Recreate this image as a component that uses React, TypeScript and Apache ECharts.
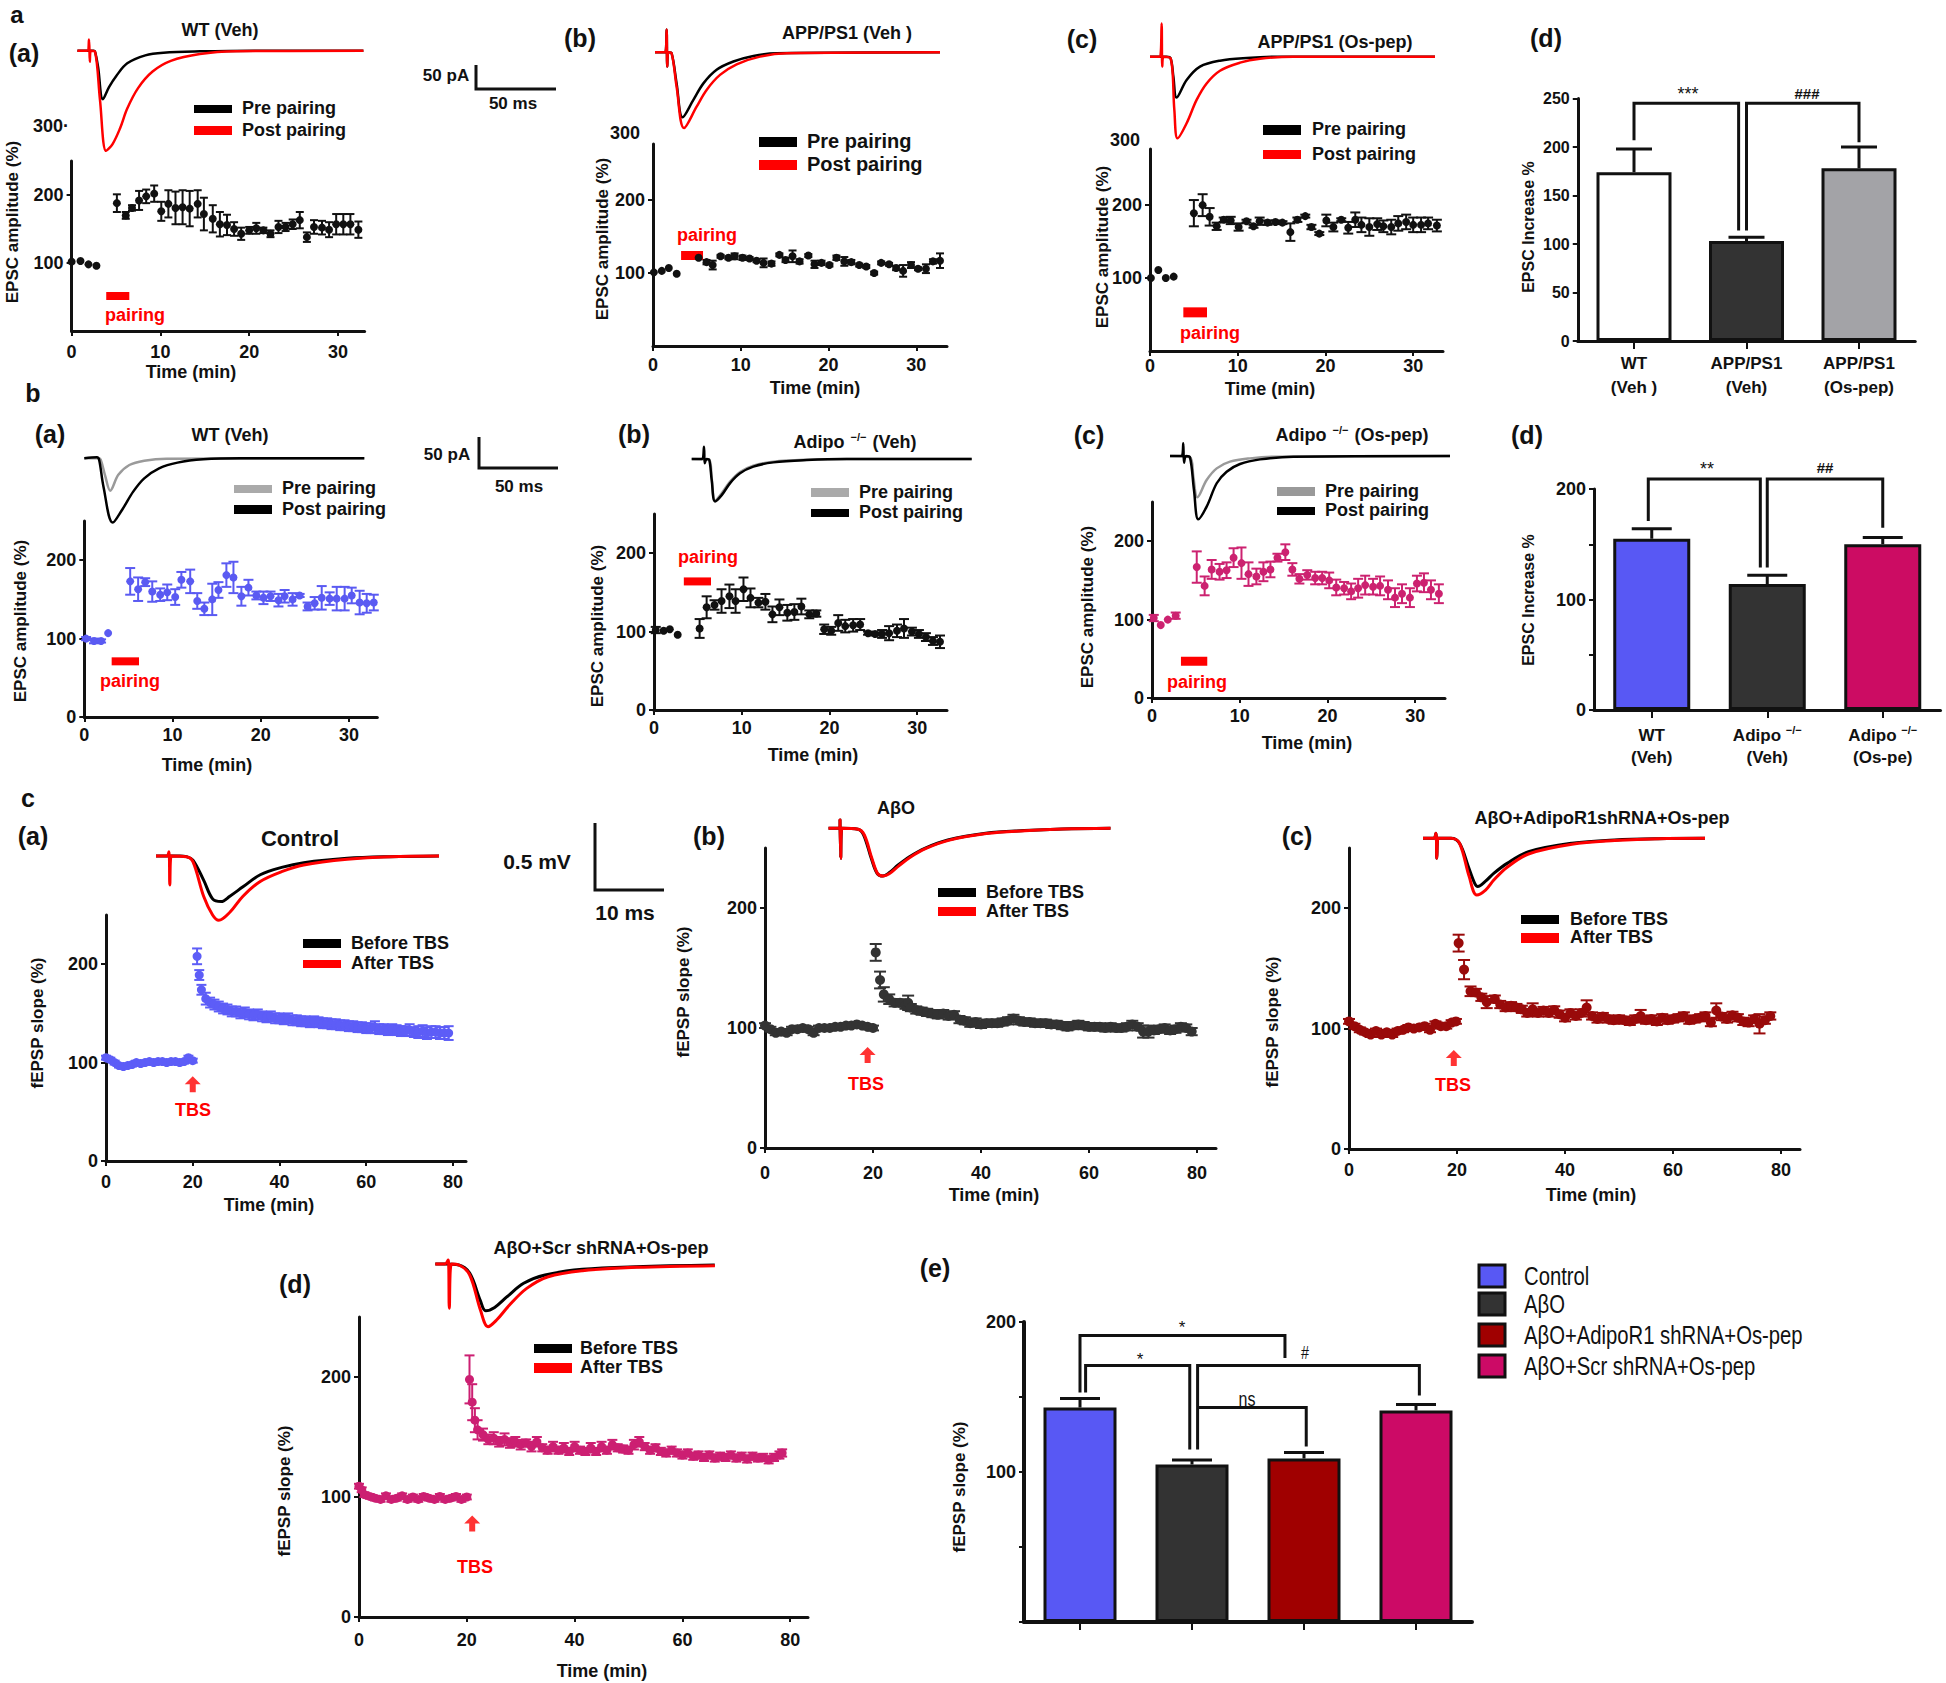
import React, { useEffect, useRef } from "react";
import * as echarts from "echarts";

const FONT = "'Liberation Sans', Arial, Helvetica, sans-serif";
const NARROW = "'Liberation Sans Narrow', 'Arial Narrow', 'Liberation Sans', Arial, sans-serif";
const INK = "#111111";
const RED = "#ff0000";

// ================= DATA =================
// Panel a — EPSC amplitude (%) : [time (min), mean, sem]
const aWTVeh = [
  [0, 102, 0], [1, 103, 0], [1.9, 98, 0], [2.8, 96, 0],
  [5.1, 188, 13], [6.1, 170, 5], [6.8, 181, 4], [7.6, 192, 14], [8.4, 198, 10], [9.3, 202, 12],
  [10.1, 176, 14], [10.9, 187, 20], [11.7, 181, 24], [12.5, 182, 25], [13.3, 180, 26], [14.2, 187, 20],
  [14.9, 172, 24], [15.9, 165, 20], [16.7, 157, 18], [17.5, 156, 15], [18.3, 150, 10], [19.1, 143, 9],
  [20.0, 148, 5], [20.8, 151, 8], [21.6, 148, 4], [22.4, 143, 5], [23.3, 153, 9], [24.1, 153, 6],
  [24.9, 157, 7], [25.7, 163, 12], [26.5, 138, 7], [27.3, 153, 10], [28.2, 152, 10], [29.0, 149, 11],
  [29.8, 157, 15], [30.6, 157, 15], [31.4, 157, 15], [32.3, 149, 12],
];
const aAPPVeh = [
  [0.1, 101, 0], [1.0, 103, 0], [1.8, 107, 0], [2.7, 99, 0],
  [5.2, 121, 0], [6.1, 115, 3], [6.8, 111, 6], [7.7, 123, 2], [8.6, 121, 2], [9.3, 123, 4],
  [10.2, 121, 3], [11.0, 120, 2], [11.8, 117, 2], [12.6, 114, 6], [13.5, 113, 3], [14.4, 125, 2],
  [15.1, 118, 3], [15.9, 123, 8], [16.7, 116, 3], [17.7, 124, 2], [18.4, 112, 5], [19.2, 114, 3],
  [20.1, 111, 2], [20.9, 121, 3], [21.8, 116, 6], [22.6, 115, 3], [23.5, 111, 2], [24.3, 109, 2],
  [25.2, 100, 2], [26.0, 114, 2], [26.9, 112, 2], [27.7, 107, 3], [28.5, 103, 8], [29.4, 111, 4],
  [30.2, 106, 2], [31.1, 106, 6], [31.9, 116, 3], [32.7, 117, 10],
];
const aAPPOs = [
  [0.1, 100, 0], [0.95, 111, 0], [1.8, 100, 0], [2.7, 102, 0],
  [5.0, 189, 18], [6.0, 200, 15], [6.8, 184, 12], [7.6, 171, 5], [8.4, 180, 3], [9.2, 179, 5],
  [10.1, 170, 5], [11.0, 178, 2], [11.8, 171, 2], [12.5, 178, 5], [13.4, 176, 3], [14.3, 177, 2],
  [15.1, 176, 2], [16.0, 163, 12], [16.8, 180, 3], [17.7, 185, 2], [18.4, 170, 3], [19.3, 161, 2],
  [20.1, 179, 8], [20.9, 170, 6], [21.8, 180, 2], [22.6, 169, 8], [23.4, 180, 10], [24.1, 173, 10],
  [25.0, 170, 12], [25.9, 174, 8], [26.6, 171, 8], [27.5, 170, 10], [28.3, 175, 10], [29.2, 177, 10],
  [30.0, 173, 10], [30.9, 173, 10], [31.7, 175, 8], [32.7, 172, 8],
];

// Panel b — EPSC amplitude (%)
const bWTVeh = [
  [0.2, 100, 2], [1.1, 97, 3], [1.9, 97, 2], [2.7, 107, 0],
  [5.2, 173, 17], [6.1, 163, 15], [6.9, 172, 5], [7.7, 160, 13], [8.6, 156, 8], [9.4, 159, 10],
  [10.3, 153, 10], [11.0, 175, 10], [12.0, 173, 15], [12.8, 148, 10], [13.6, 138, 8], [14.5, 150, 20],
  [15.2, 162, 10], [16.1, 181, 15], [16.9, 178, 20], [17.8, 154, 12], [18.6, 165, 10], [19.5, 155, 5],
  [20.3, 152, 8], [21.1, 154, 6], [22.0, 149, 8], [22.7, 154, 8], [23.6, 150, 8], [24.4, 155, 2],
  [25.3, 141, 5], [26.1, 145, 8], [26.9, 152, 15], [27.8, 151, 8], [28.6, 151, 15], [29.5, 151, 15],
  [30.3, 155, 10], [31.2, 146, 15], [32.0, 145, 12], [32.8, 146, 10],
];
const bAdipoVeh = [
  [0.2, 102, 4], [1.1, 101, 0], [1.8, 103, 0], [2.7, 96, 0],
  [5.2, 104, 12], [6.0, 131, 14], [6.9, 134, 6], [7.7, 139, 15], [8.6, 145, 15], [9.3, 139, 15],
  [10.2, 154, 15], [11.0, 143, 12], [11.9, 137, 6], [12.7, 138, 10], [13.5, 122, 10], [14.3, 131, 10],
  [15.2, 124, 10], [16.0, 125, 10], [16.8, 132, 10], [17.7, 122, 5], [18.5, 123, 4], [19.4, 103, 6],
  [20.2, 101, 5], [21.0, 111, 10], [21.8, 107, 8], [22.7, 108, 8], [23.5, 109, 7], [24.4, 98, 2],
  [25.2, 97, 2], [26.0, 97, 5], [26.8, 98, 9], [27.7, 101, 8], [28.5, 104, 12], [29.4, 100, 5],
  [30.2, 97, 5], [31.0, 93, 5], [31.8, 88, 5], [32.6, 87, 8],
];
const bAdipoOs = [
  [0.2, 102, 4], [1.0, 93, 0], [1.8, 100, 0], [2.7, 105, 4],
  [5.1, 167, 20], [6.0, 143, 12], [6.8, 164, 12], [7.7, 161, 10], [8.5, 163, 10], [9.3, 179, 12],
  [10.2, 172, 20], [11.0, 158, 15], [11.9, 155, 10], [12.7, 161, 12], [13.5, 164, 10], [14.3, 179, 5],
  [15.2, 186, 10], [16.0, 164, 8], [16.8, 152, 6], [17.7, 157, 6], [18.6, 153, 8], [19.4, 153, 8],
  [20.2, 150, 10], [21.0, 141, 10], [21.9, 140, 8], [22.7, 136, 10], [23.5, 140, 12], [24.3, 144, 12],
  [25.2, 142, 10], [26.0, 143, 12], [26.9, 138, 12], [27.7, 128, 12], [28.5, 133, 12], [29.4, 128, 12],
  [30.2, 146, 10], [31.0, 147, 12], [31.8, 138, 12], [32.7, 133, 12],
];

// Panel c — fEPSP slope (%)
const cControl = [
  [0, 105, 2], [1, 103, 2], [2, 100, 2], [3, 97, 2], [4, 96, 2], [5, 97, 2], [6, 98, 2], [7, 100, 2],
  [8, 99, 2], [9, 100, 2], [10, 101, 2], [11, 100, 2], [12, 101, 2], [13, 101, 2], [14, 100, 2],
  [15, 101, 2], [16, 101, 2], [17, 100, 2], [18, 101, 2], [19, 105, 2], [20, 102, 2],
  [21, 208, 8], [21.5, 189, 5], [22, 174, 5], [23, 165, 6], [24, 161, 5], [25, 159, 5], [26, 157, 5],
  [27, 155, 5], [28, 154, 5], [29, 152, 5], [30, 152, 5], [31, 150, 5], [32, 151, 5], [33, 149, 5],
  [34, 148, 5], [35, 149, 5], [36, 147, 5], [37, 146, 5], [38, 147, 5], [39, 145, 5], [40, 145, 5],
  [41, 144, 5], [42, 145, 5], [43, 143, 5], [44, 143, 5], [45, 142, 5], [46, 142, 5], [47, 141, 5],
  [48, 142, 5], [49, 141, 5], [50, 140, 5], [51, 140, 5], [52, 139, 5], [53, 139, 5], [54, 138, 5],
  [55, 138, 5], [56, 137, 5], [57, 137, 5], [58, 136, 5], [59, 136, 5], [60, 135, 5], [61, 135, 5],
  [62, 136, 6], [63, 134, 5], [64, 134, 5], [65, 133, 5], [66, 134, 5], [67, 133, 5], [68, 132, 5],
  [69, 132, 5], [70, 133, 6], [71, 131, 5], [72, 131, 6], [73, 132, 6], [74, 130, 6], [75, 131, 6],
  [76, 131, 6], [77, 130, 6], [78, 130, 6], [79, 130, 7],
];
const cAbo = [
  [0, 102, 2], [1, 99, 2], [2, 96, 2], [3, 97, 2], [4, 96, 2], [5, 99, 2], [6, 99, 2], [7, 100, 2],
  [8, 99, 2], [9, 96, 2], [10, 100, 2], [11, 100, 2], [12, 100, 2], [13, 101, 2], [14, 101, 2],
  [15, 102, 2], [16, 102, 2], [17, 103, 2], [18, 102, 2], [19, 101, 2], [20, 100, 2],
  [20.5, 163, 7], [21.3, 140, 7], [22, 128, 6], [23, 124, 4], [24, 121, 3], [25, 121, 3], [26, 119, 3],
  [26.5, 121, 6], [27, 117, 3], [28, 115, 3], [29, 114, 3], [30, 113, 3], [31, 112, 3], [32, 111, 3],
  [33, 112, 3], [34, 110, 3], [35, 111, 3], [36, 107, 3], [37, 106, 3], [38, 104, 3], [39, 105, 3],
  [40, 103, 3], [41, 104, 3], [42, 104, 3], [43, 104, 3], [44, 105, 3], [45, 106, 3], [46, 108, 3],
  [47, 106, 3], [48, 105, 3], [49, 105, 3], [50, 104, 3], [51, 104, 3], [52, 104, 3], [53, 103, 3],
  [54, 103, 3], [55, 102, 3], [56, 101, 3], [57, 102, 3], [58, 103, 3], [59, 102, 3], [60, 101, 3],
  [61, 101, 3], [62, 101, 3], [63, 100, 3], [64, 101, 3], [65, 100, 3], [66, 100, 3], [67, 101, 3],
  [68, 103, 3], [69, 101, 3], [70, 97, 5], [71, 97, 5], [72, 98, 3], [73, 99, 3], [74, 100, 3],
  [75, 98, 3], [76, 99, 3], [77, 101, 3], [78, 100, 3], [79, 97, 3],
];
const cAboShR1 = [
  [0, 106, 2], [1, 102, 2], [2, 99, 2], [3, 97, 2], [4, 95, 2], [5, 98, 2], [6, 95, 2], [7, 97, 2],
  [8, 95, 2], [9, 98, 2], [10, 99, 2], [11, 101, 2], [12, 100, 2], [13, 101, 2], [14, 102, 2],
  [15, 99, 2], [16, 104, 2], [17, 102, 2], [18, 102, 2], [19, 105, 2], [19.8, 106, 2],
  [20.3, 171, 7], [21.3, 149, 8], [22.5, 131, 4], [23.5, 130, 3], [24.5, 126, 3], [25.5, 122, 5],
  [27, 124.5, 3], [28, 120, 3], [29, 117.5, 3], [30, 119, 3], [31, 117.5, 3], [32, 116, 3], [33, 113, 3],
  [34, 116, 5], [35, 113, 3], [36, 115, 3], [37, 113, 3], [38, 115.5, 3], [39, 112, 3], [40, 109, 3],
  [41, 113, 3], [42, 110.5, 3], [43, 113, 3], [44, 117.5, 6], [45, 110.5, 3], [46, 108, 3], [47, 110, 3],
  [48, 108, 3], [49, 107, 3], [50, 108, 3], [51, 107, 3], [52, 106, 3], [53, 108, 3], [54, 110.5, 5],
  [55, 107, 3], [56, 108, 3], [57, 106, 3], [58, 109, 3], [59, 107, 3], [60, 108, 3], [61, 109, 3],
  [62, 110.5, 3], [63, 107, 3], [64, 108, 3], [65, 109, 3], [66, 110.5, 3], [67, 105, 3], [68, 115, 6],
  [69, 110, 3], [70, 108, 3], [71, 111, 3], [72, 109, 3], [73, 106, 3], [74, 105, 3], [75, 108, 3],
  [76, 104, 8], [77, 107, 3], [78, 110.5, 3],
];
const cAboScr = [
  [0, 109, 2], [0.5, 106, 2], [1, 102, 2], [2, 100.5, 2], [3, 99, 2], [4, 98, 2], [5, 101, 2], [6, 98, 2],
  [7, 99, 2], [8, 101, 2], [9, 98, 2], [10, 100, 2], [11, 98, 2], [12, 100.5, 2], [13, 99, 2], [14, 98, 2],
  [15, 100.5, 2], [16, 98, 2], [17, 99, 2], [18, 100.5, 2], [19, 98, 2], [20, 100, 2],
  [20.5, 198, 20], [21, 179, 15], [21.5, 164, 10], [22, 156, 8], [23, 152, 5], [24, 148, 4], [25, 149, 5],
  [26, 146, 4], [27, 148, 5], [28, 145, 4], [29, 146, 4], [30, 143.6, 4], [31, 145, 3], [32, 142, 4],
  [33, 146, 4], [34, 141, 3], [35, 139, 3], [36, 142, 4], [37, 139, 3], [38, 141, 4], [39, 138, 3],
  [40, 142, 4], [41, 139, 3], [42, 138, 3], [43, 141, 4], [44, 138, 3], [45, 142, 4], [46, 139, 3],
  [47, 143.6, 4], [48, 141, 3], [49, 140, 3], [50, 139, 3], [51, 143.6, 4], [52, 146, 4], [53, 142, 3],
  [54, 139, 3], [55, 141, 3], [56, 138, 3], [57, 136.7, 3], [58, 139, 3], [59, 136.7, 3], [60, 135, 3],
  [61, 136.7, 3], [62, 134, 3], [63, 135, 3], [64, 133, 3], [65, 135, 3], [66, 132.5, 3], [67, 134, 3],
  [68, 133, 3], [69, 135, 3], [70, 132.5, 3], [71, 134, 3], [72, 131.7, 3], [73, 134, 3], [74, 132.5, 3],
  [75, 133, 3], [76, 131, 3], [77, 133, 3], [78, 135, 3], [78.5, 136.7, 3],
];

// Bar charts: mean and upper SEM
const aBarCats = ["WT\n(Veh )", "APP/PS1\n(Veh)", "APP/PS1\n(Os-pep)"];
const aBarVals = [174, 103, 178];
const aBarErr = [24, 4, 22];
const bBarCats = ["WT\n(Veh)", "Adipo {s|−/−}\n(Veh)", "Adipo {s|−/−}\n(Os-pe)"];
const bBarVals = [155, 114, 150];
const bBarErr = [9, 8, 6];
const cBarCats = ["Control", "AβO", "AβO+AdipoR1 shRNA+Os-pep", "AβO+Scr shRNA+Os-pep"];
const cBarVals = [143, 105, 109, 141];
const cBarErr = [6, 3, 4, 4];

// Significance brackets in [category position, value]
const aBrackets = [
  [[0, 207], [0, 245], [0.93, 245], [0.93, 114]],
  [[1, 114], [1, 245], [2, 245], [2, 205]],
];
const bBrackets = [
  [[-0.03, 171], [-0.03, 209], [0.94, 209], [0.94, 129]],
  [[1, 129], [1, 209], [2, 209], [2, 165]],
];
const cBrackets = [
  [[0, 153], [0, 191], [1.83, 191], [1.83, 176]],
  [[0.05, 153], [0.05, 171], [0.98, 171], [0.98, 115]],
  [[1.05, 115], [1.05, 171], [3.03, 171], [3.03, 151]],
  [[1.05, 143], [2.02, 143], [2.02, 117]],
];

// Pairing bar [start min, end min, y level] for panels a(a..c), b(a..c)
const pairingBars = [[3.9, 6.5, 51.5], [3.2, 5.7, 124], [3.8, 6.5, 53], [3.1, 6.2, 71], [3.4, 6.5, 164], [3.3, 6.3, 47]];
// TBS arrows [time, y] for panels c(a..d)
const tbsMarks = [[20, 78], [19, 77.5], [19.4, 75.5], [21, 78]];

// Example traces [ms, pA or mV]
const trAaPre = [[0, 0], [10.1, 0], [11, -2.7], [12.8, -33], [15.8, -100], [19.6, -75], [24.1, -52], [30.9, -26], [42.1, -9.6], [53.4, -4.1], [75.9, -1.4], [109.7, 0], [177.3, 0]];
const trAaPost = [[0, 0], [6.1, 0], [7.2, 23], [7.7, -23], [8.3, 0], [11, -2.7], [14, -101], [17.8, -206], [21.8, -192], [26.4, -160], [30.9, -119], [37.6, -77], [46.6, -43], [57.9, -21], [75.9, -7], [98.4, -1.4], [177.3, 0]];
const trAbPre = [[0, 0], [6.4, 0], [7.2, 47], [7.6, -29.5], [8.3, 0], [10.3, -2], [13.4, -64], [17.1, -134], [23.8, -98], [30, -64], [38.2, -36], [48.6, -19], [61, -7.5], [75.4, -2], [176.7, 0]];
const trAbPost = [[0, 0], [6.4, 0], [7.2, 47], [7.6, -29.5], [8.3, 0], [10.3, -2], [13.4, -71], [18, -156], [25.8, -112], [32, -77.5], [40.3, -46.6], [50.6, -24.7], [65.1, -8.9], [81.6, -2], [176.7, 0]];
const trAcPre = [[0, 0], [10.3, 0], [12.8, -3.4], [14.5, -41], [16.5, -84], [22.7, -48], [31, -20.6], [43.4, -8.2], [60, -2.7], [80.6, 0], [176.7, 0]];
const trAcPost = [[0, 0], [6.2, 0], [7.2, 68.6], [7.6, -20.6], [8.3, 0], [12.8, -3.4], [15.1, -110], [17.1, -168], [22.7, -137], [28.9, -89], [35.1, -55], [43.4, -28.8], [55.8, -12.3], [68.2, -4.1], [88.8, 0], [176.7, 0]];
const trBaPre = [[0, 0], [8.6, 0], [10.2, -1.6], [13.2, -29], [16.2, -51], [21.3, -26], [28.2, -10.5], [37.5, -3.7], [51.4, -0.5], [175.2, 0]];
const trBaPost = [[0, 0], [7.9, 1.6], [9.3, -2.6], [12, -44.7], [17.8, -101.5], [23.6, -81.5], [30.6, -52.6], [37.5, -31.6], [46.8, -15.8], [58.3, -6.8], [74.5, -1.6], [97.7, 0], [175.2, 0]];
const trBbPre = [[0, 0], [11, -1.6], [12.5, -30.5], [14.6, -65.8], [18.75, -54], [24, -35.8], [30.2, -20.5], [38.5, -10.5], [51, -4.2], [71.9, -1], [96.9, 0], [175, 0]];
const trBbPost = [[0, 0], [6.25, 0], [7.7, 19.5], [8.1, -6.8], [9.4, 0], [11, -1.6], [12.5, -33], [14.6, -67], [18.75, -57], [24, -38], [30.2, -22.6], [38.5, -12.1], [51, -5.3], [71.9, -1.6], [96.9, 0], [175, 0]];
const trBcPre = [[0, 0], [12.5, -2.1], [14.6, -32.6], [17.1, -65.2], [22.9, -37.9], [29.2, -19.5], [37.5, -8.9], [50, -3.7], [66.7, -1], [175, 0]];
const trBcPost = [[0, 0], [7.3, 0], [8.3, 20], [8.75, -10.5], [10, 0], [12.5, -2.1], [15, -53.7], [17.7, -100], [22.9, -80], [29.2, -43], [35.4, -24.7], [43.75, -12.6], [56.25, -5.3], [77.1, -1], [175, 0]];
const trCaPre = [[0, 0], [3.46, 0], [4.4, -0.005], [5.35, -0.03], [6.9, -0.18], [8.2, -0.32], [9.44, -0.34], [10.7, -0.3], [12.6, -0.23], [15.1, -0.14], [18.2, -0.085], [21.4, -0.05], [27.7, -0.017], [33.9, -0.005], [41, 0]];
const trCaPost = [[0, 0], [1.58, 0], [1.88, 0.032], [2.0, -0.216], [2.2, 0], [4.4, -0.005], [5.35, -0.042], [6.9, -0.3], [8.2, -0.44], [9.1, -0.48], [10.7, -0.42], [12.6, -0.3], [15.1, -0.19], [18.2, -0.117], [21.4, -0.067], [27.7, -0.025], [33.9, -0.005], [41, 0]];
const trCbPre = [[0, 0], [1.67, 0], [1.67, 0.062], [1.77, -0.224], [1.94, 0], [4.28, -0.0075], [5.1, -0.05], [6.2, -0.224], [7.05, -0.336], [7.87, -0.356], [8.7, -0.336], [10.1, -0.274], [11.75, -0.212], [13.96, -0.149], [17.3, -0.087], [22.8, -0.037], [28.4, -0.017], [33.9, -0.005], [40.9, 0]];
const trCbPost = [[0, 0], [1.67, 0], [1.67, 0.062], [1.77, -0.224], [1.94, 0], [4.28, -0.0075], [5.2, -0.05], [6.3, -0.226], [7.15, -0.34], [7.97, -0.356], [8.8, -0.34], [10.2, -0.28], [11.85, -0.216], [14.06, -0.152], [17.4, -0.09], [22.9, -0.039], [28.5, -0.018], [34, -0.006], [40.9, 0]];
const trCcPre = [[0, 0], [1.57, 0], [1.88, 0.037], [2.0, -0.149], [2.19, 0], [4.07, 0], [5.3, -0.037], [6.57, -0.21], [7.5, -0.336], [7.94, -0.36], [9.07, -0.32], [10.3, -0.26], [12.2, -0.187], [15.3, -0.1], [21.6, -0.037], [27.8, -0.012], [34.1, -0.0025], [40.9, 0]];
const trCcPost = [[0, 0], [1.57, 0], [1.88, 0.037], [2.0, -0.149], [2.19, 0], [4.07, 0], [5.3, -0.037], [6.7, -0.286], [7.8, -0.423], [9.07, -0.386], [10.3, -0.31], [12.2, -0.216], [15.3, -0.117], [21.6, -0.045], [27.8, -0.017], [34.1, -0.0025], [40.9, 0]];
const trCdPre = [[0, 0], [1.4, 0], [3.4, -0.0075], [5, -0.07], [6.5, -0.269], [7.3, -0.349], [8.6, -0.324], [10.4, -0.244], [12.8, -0.144], [15.9, -0.082], [21.3, -0.04], [29.1, -0.02], [40.5, -0.0075]];
const trCdPost = [[0, 0], [1.4, 0], [1.87, 0.03], [2.03, -0.331], [2.33, 0], [3.43, -0.0075], [4.99, -0.082], [6.54, -0.344], [7.64, -0.468], [8.88, -0.418], [10.75, -0.306], [13.25, -0.182], [16.36, -0.095], [21.35, -0.05], [29.14, -0.025], [40.52, -0.0125]];

// ================= LAYOUT / STYLE =================
const BLUE = "#5858f4";
const scatterPanels = [
  { pts: aWTVeh, box: [71.6, 161, 293, 170], xMax: 33, yMax: 250, xs: [0, 10, 20, 30], ys: [100, 200], yl: [100, 200], color: "#111", size: 8, cap: 4, xm: 12 },
  { pts: aAPPVeh, box: [653, 144, 294, 202], xMax: 33.5, yMax: 277, xs: [0, 10, 20, 30], ys: [100, 200], yl: [100, 200], color: "#111", size: 8, cap: 4, xm: 10 },
  { pts: aAPPOs, box: [1150, 149, 293, 202], xMax: 33.4, yMax: 277, xs: [0, 10, 20, 30], ys: [100, 200], yl: [100, 200], color: "#111", size: 8, cap: 5, xm: 6 },
  { pts: bWTVeh, box: [84.3, 521, 293, 196], xMax: 33.2, yMax: 250, xs: [0, 10, 20, 30], ys: [0, 100, 200], yl: [0, 100, 200], color: "#5a5af2", size: 8, cap: 5, xm: 9 },
  { pts: bAdipoVeh, box: [654, 514, 293, 196], xMax: 33.4, yMax: 250, xs: [0, 10, 20, 30], ys: [0, 100, 200], yl: [0, 100, 200], color: "#111", size: 8, cap: 5, xm: 9 },
  { pts: bAdipoOs, box: [1152, 502, 293, 196], xMax: 33.4, yMax: 250, xs: [0, 10, 20, 30], ys: [0, 100, 200], yl: [0, 100, 200], color: "#cc2270", size: 8, cap: 5, xm: 9 },
  { pts: cControl, box: [106, 915, 360, 246], xMax: 83, yMax: 250, xs: [0, 20, 40, 60, 80], ys: [0, 100, 200], yl: [0, 100, 200], color: "#5d5df7", size: 9, cap: 5, xm: 12 },
  { pts: cAbo, box: [765, 848, 451, 300], xMax: 83.5, yMax: 250, xs: [0, 20, 40, 60, 80], ys: [0, 100, 200], yl: [0, 100, 200], color: "#333333", size: 10, cap: 6, xm: 16 },
  { pts: cAboShR1, box: [1349, 848, 451, 301], xMax: 83.5, yMax: 250, xs: [0, 20, 40, 60, 80], ys: [0, 100, 200], yl: [0, 100, 200], color: "#990a0a", size: 10, cap: 6, xm: 12 },
  { pts: cAboScr, box: [359, 1317, 449, 300], xMax: 83.3, yMax: 250, xs: [0, 20, 40, 60, 80], ys: [0, 100, 200], yl: [0, 100, 200], color: "#cc1f72", size: 9, cap: 5, xm: 14 },
];
const pairingThick = [8, 9, 10, 8, 8, 9];

const tracePanels = [
  { box: [77.4, 38.5, 286, 114.3], x: [0, 177.3], y: [-210, 25], lines: [[trAaPre, "#000"], [trAaPost, RED]], w: 2.5 },
  { box: [655, 28, 285, 102], x: [0, 176.7], y: [-160, 50], lines: [[trAbPre, "#000"], [trAbPost, RED]], w: 2.5 },
  { box: [1150, 22.7, 285, 119], x: [0, 176.7], y: [-175, 70], lines: [[trAcPre, "#000"], [trAcPost, RED]], w: 2.5 },
  { box: [84.3, 452, 280, 76], x: [0, 175.2], y: [-110, 10], lines: [[trBaPre, "#9a9a9a"], [trBaPost, "#000"]], w: 2.5 },
  { box: [691.7, 443.2, 280, 63.3], x: [0, 175], y: [-75, 25], lines: [[trBbPre, "#9a9a9a"], [trBbPost, "#000"]], w: 2.5 },
  { box: [1170, 440.2, 280, 82.3], x: [0, 175], y: [-105, 25], lines: [[trBcPre, "#9a9a9a"], [trBcPost, "#000"]], w: 2.5 },
  { box: [156, 849.3, 283, 73.7], x: [0, 41], y: [-0.5, 0.05], lines: [[trCaPre, "#000"], [trCaPost, RED]], w: 3 },
  { box: [828.5, 817.6, 282, 64.3], x: [0, 40.9], y: [-0.4, 0.08], lines: [[trCbPre, "#000"], [trCbPost, RED]], w: 3 },
  { box: [1423, 831.6, 282, 67], x: [0, 40.9], y: [-0.45, 0.05], lines: [[trCcPre, "#000"], [trCcPost, RED]], w: 3 },
  { box: [435.3, 1257.3, 279.6, 73.7], x: [0, 40.52], y: [-0.5, 0.05], lines: [[trCdPre, "#000"], [trCdPost, RED]], w: 3 },
];

function errRenderer(cap: number, color: string, lw: number, upOnly: boolean) {
  return (_params: any, api: any) => {
    const x = api.value(0);
    const y = api.value(1);
    const e = api.value(2);
    if (!e) return { type: "group", children: [] };
    const p1 = api.coord([x, y + e]);
    const p0 = api.coord([x, upOnly ? y : y - e]);
    const st = { stroke: color, lineWidth: lw, fill: "none" };
    const ch: any[] = [
      { type: "line", shape: { x1: p1[0], y1: p1[1], x2: p0[0], y2: p0[1] }, style: st },
      { type: "line", shape: { x1: p1[0] - cap, y1: p1[1], x2: p1[0] + cap, y2: p1[1] }, style: st },
    ];
    if (!upOnly) ch.push({ type: "line", shape: { x1: p0[0] - cap, y1: p0[1], x2: p0[0] + cap, y2: p0[1] }, style: st });
    return { type: "group", children: ch };
  };
}

function txt(x: number, y: number, text: string, o: any = {}) {
  const align = o.align || "center";
  const style: any = {
    text,
    fill: o.color || INK,
    fontSize: o.size || 18,
    fontWeight: o.weight || "bold",
    fontFamily: o.family || FONT,
    align,
    verticalAlign: "middle",
    textAlign: align,
    textVerticalAlign: "middle",
  };
  if (o.rich) style.rich = o.rich;
  return { type: "text", x, y, rotation: o.rot || 0, scaleX: o.sx || 1, silent: true, z: 100, style };
}
function rect(x: number, y: number, w: number, h: number, fill: string, stroke?: string) {
  return { type: "rect", shape: { x, y, width: w, height: h }, style: { fill, stroke: stroke || null, lineWidth: stroke ? 3 : 0 }, silent: true, z: 100 };
}
function pline(pts: number[][], w = 3) {
  return { type: "polyline", shape: { points: pts }, style: { stroke: INK, lineWidth: w, fill: null }, silent: true, z: 100 };
}

function buildOption() {
  const grids: any[] = [];
  const xAxes: any[] = [];
  const yAxes: any[] = [];
  const series: any[] = [];
  const gfx: any[] = [];

  const addGrid = (b: number[]) => {
    grids.push({ left: b[0], top: b[1], width: b[2], height: b[3], containLabel: false });
    return grids.length - 1;
  };
  const valueAxis = (g: number, min: number, max: number, ticks: number[], labels: number[], o: any = {}) => ({
    type: "value",
    gridIndex: g,
    min,
    max,
    interval: o.interval || 100,
    axisLine: { show: true, onZero: false, lineStyle: { color: INK, width: o.lw || 3 } },
    axisTick: { show: true, inside: false, length: o.tl || 5, lineStyle: { color: INK, width: 2 }, customValues: ticks },
    axisLabel: {
      show: true,
      customValues: labels,
      formatter: (v: any) => (labels.indexOf(Number(v)) >= 0 ? String(v) : ""),
      margin: o.margin == null ? 8 : o.margin,
      fontSize: o.fs || 18,
      fontWeight: "bold",
      fontFamily: o.ff || FONT,
      color: INK,
    },
    splitLine: { show: false },
  });

  // ---- scatter panels ----
  scatterPanels.forEach((p, i) => {
    const g = addGrid(p.box);
    const xi = xAxes.length;
    xAxes.push(valueAxis(g, 0, p.xMax, p.xs, p.xs, { margin: p.xm, interval: p.xs[1] - p.xs[0] }));
    const yi = yAxes.length;
    yAxes.push(valueAxis(g, 0, p.yMax, p.ys, p.yl, { margin: 8 }));
    series.push({
      type: "custom",
      xAxisIndex: xi,
      yAxisIndex: yi,
      data: p.pts,
      renderItem: errRenderer(p.cap, p.color, 2, false),
      silent: true,
      z: 2,
      clip: false,
    });
    series.push({
      type: "scatter",
      xAxisIndex: xi,
      yAxisIndex: yi,
      data: p.pts.map((d) => [d[0], d[1]]),
      symbol: "circle",
      symbolSize: p.size,
      itemStyle: { color: p.color, opacity: 1 },
      silent: true,
      z: 3,
    });
    if (i < 6) {
      const pb = pairingBars[i];
      series.push({
        type: "line",
        xAxisIndex: xi,
        yAxisIndex: yi,
        data: [[pb[0], pb[2]], [pb[1], pb[2]]],
        symbol: "none",
        lineStyle: { color: RED, width: pairingThick[i], cap: "butt" },
        silent: true,
        z: 3,
      });
    } else {
      const tb = tbsMarks[i - 6];
      series.push({
        type: "scatter",
        xAxisIndex: xi,
        yAxisIndex: yi,
        data: [tb],
        symbol: "path://M8,0 L16,8 L11,8 L11,16 L5,16 L5,8 L0,8 Z",
        symbolSize: [16, 16],
        itemStyle: { color: RED },
        silent: true,
        z: 3,
      });
    }
  });

  // ---- trace panels ----
  tracePanels.forEach((p) => {
    const g = addGrid(p.box);
    const xi = xAxes.length;
    xAxes.push({ type: "value", gridIndex: g, min: p.x[0], max: p.x[1], show: false, splitLine: { show: false } });
    const yi = yAxes.length;
    yAxes.push({ type: "value", gridIndex: g, min: p.y[0], max: p.y[1], show: false, splitLine: { show: false } });
    p.lines.forEach((ln: any, k: number) => {
      series.push({
        type: "line",
        xAxisIndex: xi,
        yAxisIndex: yi,
        data: ln[0],
        symbol: "none",
        smooth: 0.35,
        lineStyle: { color: ln[1], width: p.w, join: "round" },
        silent: true,
        z: 3 + k,
      });
    });
  });

  // ---- bar panels ----
  const barPanel = (box: number[], cats: string[], vals: number[], errs: number[], colors: string[], yMax: number,
    yLabels: number[], brackets: number[][][], o: any) => {
    const g = addGrid(box);
    const xi = xAxes.length;
    xAxes.push({
      type: "category",
      gridIndex: g,
      data: cats,
      axisLine: { show: true, onZero: false, lineStyle: { color: INK, width: o.axisW || 3 } },
      axisTick: { show: true, alignWithLabel: true, length: 8, lineStyle: { color: INK, width: 2 } },
      axisLabel: {
        show: o.showCats,
        interval: 0,
        hideOverlap: false,
        margin: o.catMargin || 10,
        fontSize: 17,
        fontWeight: "bold",
        fontFamily: FONT,
        color: INK,
        lineHeight: o.catLH || 24,
        rich: {
          s: { fontSize: 11, fontWeight: "bold", fontFamily: FONT, color: INK, padding: [0, 0, 10, 0] },
        },
      },
      splitLine: { show: false },
    });
    const xv = xAxes.length;
    xAxes.push({ type: "value", gridIndex: g, min: -0.5, max: cats.length - 0.5, show: false, splitLine: { show: false } });
    const ticks: number[] = [];
    for (let v = 0; v <= yMax; v += 50) ticks.push(v);
    const yi = yAxes.length;
    yAxes.push(valueAxis(g, 0, yMax, ticks, yLabels, { interval: 50, margin: 8, fs: o.yfs || 18, ff: o.yff || FONT, lw: o.axisW || 3 }));
    series.push({
      type: "custom",
      xAxisIndex: xi,
      yAxisIndex: yi,
      data: vals.map((v, i) => [i, v, errs[i]]),
      renderItem: errRenderer(o.cap, INK, 3, true),
      silent: true,
      z: 2,
      clip: false,
    });
    series.push({
      type: "bar",
      xAxisIndex: xi,
      yAxisIndex: yi,
      barWidth: o.barW,
      data: vals.map((v, i) => ({ value: v, itemStyle: { color: colors[i] } })),
      itemStyle: { borderColor: INK, borderWidth: 3 },
      silent: true,
      z: 3,
    });
    brackets.forEach((br) => {
      series.push({
        type: "line",
        xAxisIndex: xv,
        yAxisIndex: yi,
        data: br,
        symbol: "none",
        clip: false,
        lineStyle: { color: INK, width: 3, join: "miter" },
        silent: true,
        z: 4,
      });
    });
  };

  barPanel([1577.75, 98.5, 337.5, 242.5], aBarCats, aBarVals, aBarErr, ["#ffffff", "#333333", "#a3a3a7"], 250,
    [0, 50, 100, 150, 200, 250], aBrackets, { showCats: true, catMargin: 10, catLH: 24, cap: 18, barW: 75, yfs: 16 });
  barPanel([1594, 489, 346.5, 221], bBarCats, bBarVals, bBarErr, [BLUE, "#333333", "#cc0c63"], 200,
    [0, 100, 200], bBrackets, { showCats: true, catMargin: 14, catLH: 22, cap: 20, barW: 77, yfs: 18 });
  barPanel([1024, 1322, 448, 300], cBarCats, cBarVals, cBarErr, [BLUE, "#333333", "#a00000", "#cc0a66"], 200,
    [100, 200], cBrackets, { showCats: false, cap: 20, barW: 73, yfs: 18, yff: NARROW, axisW: 4 });

  // ---- text / annotations ----
  const sup = (size: number) => ({
    n: { fontSize: size, fontWeight: "bold", fontFamily: FONT, fill: INK, color: INK },
    s: { fontSize: 11, fontWeight: "bold", fontFamily: FONT, fill: INK, color: INK, padding: [0, 1, 10, 1] },
  });
  // panel letters
  gfx.push(txt(17, 14, "a", { size: 24 }));
  gfx.push(txt(33, 393, "b", { size: 25 }));
  gfx.push(txt(28, 798, "c", { size: 25 }));
  [[24, 53, "(a)"], [580, 38, "(b)"], [1082, 39, "(c)"], [1546, 38, "(d)"],
   [50, 434, "(a)"], [634, 434, "(b)"], [1089, 435, "(c)"], [1527, 435, "(d)"],
   [33, 836, "(a)"], [709, 836, "(b)"], [1297, 836, "(c)"], [295, 1284, "(d)"], [935, 1268, "(e)"]].forEach((l: any) =>
    gfx.push(txt(l[0], l[1], l[2], { size: 25 })));

  // panel titles
  gfx.push(txt(220, 30, "WT (Veh)"));
  gfx.push(txt(847, 33, "APP/PS1 (Veh )"));
  gfx.push(txt(1335, 42, "APP/PS1 (Os-pep)"));
  gfx.push(txt(230, 435, "WT (Veh)"));
  gfx.push(txt(855, 442, "{n|Adipo }{s|−/−}{n| (Veh)}", { rich: sup(18) }));
  gfx.push(txt(1352, 435, "{n|Adipo }{s|−/−}{n| (Os-pep)}", { rich: sup(18) }));
  gfx.push(txt(300, 838, "Control", { size: 22 }));
  gfx.push(txt(896, 808, "AβO"));
  gfx.push(txt(1602, 818, "AβO+AdipoR1shRNA+Os-pep"));
  gfx.push(txt(601, 1248, "AβO+Scr shRNA+Os-pep"));

  // legends
  const leg = (x: number, y1: number, h1: number, y2: number, h2: number, c1: string, c2: string, tx: number, t1: string, t2: string, size = 18) => {
    gfx.push(rect(x, y1, 38, h1, c1));
    gfx.push(rect(x, y2, 38, h2, c2));
    gfx.push(txt(tx, y1 + h1 / 2 - 1, t1, { align: "left", size }));
    gfx.push(txt(tx, y2 + h2 / 2 - 1, t2, { align: "left", size }));
  };
  leg(194, 105, 8, 126, 9, "#000", RED, 242, "Pre pairing", "Post pairing");
  leg(759, 137, 10, 160, 10, "#000", RED, 807, "Pre pairing", "Post pairing", 20);
  leg(1263, 125, 10, 150, 9, "#000", RED, 1312, "Pre pairing", "Post pairing");
  leg(234, 485, 8, 505, 9, "#aaaaaa", "#000", 282, "Pre pairing", "Post pairing");
  leg(811, 488, 9, 509, 8, "#aaaaaa", "#000", 859, "Pre pairing", "Post pairing");
  leg(1277, 487, 9, 507, 8, "#999999", "#000", 1325, "Pre pairing", "Post pairing");
  leg(303, 939, 9, 960, 8, "#000", RED, 351, "Before TBS", "After TBS");
  leg(938, 888, 9, 907, 9, "#000", RED, 986, "Before TBS", "After TBS");
  leg(1521, 915, 9, 933, 10, "#000", RED, 1570, "Before TBS", "After TBS");
  leg(534, 1344, 9, 1363, 10, "#000", RED, 580, "Before TBS", "After TBS");

  // scale bars
  gfx.push(pline([[476, 65], [476, 89], [556, 89]]));
  gfx.push(txt(446, 75, "50 pA", { size: 17 }));
  gfx.push(txt(513, 103, "50 ms", { size: 17 }));
  gfx.push(pline([[479, 437], [479, 468], [558, 468]]));
  gfx.push(txt(447, 454, "50 pA", { size: 17 }));
  gfx.push(txt(519, 486, "50 ms", { size: 17 }));
  gfx.push(pline([[595, 823], [595, 890], [664, 890]]));
  gfx.push(txt(537, 861, "0.5 mV", { size: 21 }));
  gfx.push(txt(625, 912, "10 ms", { size: 21 }));

  // stray "300" tick labels of panel a
  gfx.push(txt(69, 126, "300·", { align: "right" }));
  gfx.push(txt(625, 133, "300"));
  gfx.push(txt(1125, 140, "300"));

  // pairing / TBS labels
  [[135, 315], [707, 235], [1210, 333], [130, 681], [708, 557], [1197, 682]].forEach((p) =>
    gfx.push(txt(p[0], p[1], "pairing", { color: RED })));
  [[193, 1110], [866, 1084], [1453, 1085], [475, 1567]].forEach((p) =>
    gfx.push(txt(p[0], p[1], "TBS", { color: RED })));

  // axis titles
  const ROT = Math.PI / 2;
  [[12, 222], [602, 239], [1102, 247], [20, 621], [597, 626], [1087, 607]].forEach((p) =>
    gfx.push(txt(p[0], p[1], "EPSC amplitude (%)", { rot: ROT, size: 17 })));
  [[1528, 227], [1528, 600]].forEach((p) => gfx.push(txt(p[0], p[1], "EPSC Increase %", { rot: ROT, size: 16 })));
  [[37, 1023], [683, 992], [1272, 1022], [284, 1491], [959, 1487]].forEach((p) =>
    gfx.push(txt(p[0], p[1], "fEPSP slope (%)", { rot: ROT, size: 17 })));
  [[191, 372], [815, 388], [1270, 389], [207, 765], [813, 755], [1307, 743], [269, 1205], [994, 1195], [1591, 1195], [602, 1671]].forEach((p) =>
    gfx.push(txt(p[0], p[1], "Time (min)")));

  // significance marks
  gfx.push(txt(1688, 94, "***", { size: 18, weight: "normal" }));
  gfx.push(txt(1807, 93, "###", { size: 15 }));
  gfx.push(txt(1707, 469, "**", { size: 18, weight: "normal" }));
  gfx.push(txt(1825, 467, "##", { size: 15 }));
  gfx.push(txt(1182, 1327, "*", { size: 17, weight: "normal" }));
  gfx.push(txt(1140, 1359, "*", { size: 17, weight: "normal" }));
  gfx.push(txt(1305, 1352, "#", { size: 18, weight: "normal", sx: 0.8 }));
  gfx.push(txt(1247, 1399, "ns", { size: 20, weight: "normal", sx: 0.8 }));

  // legend of c(e)
  const legCols = [BLUE, "#333333", "#a00000", "#cc0a66"];
  const legY = [1276, 1304, 1335, 1366];
  cBarCats.forEach((name, i) => {
    gfx.push(rect(1479, legY[i] - 11, 26, 22, legCols[i], "#111"));
    gfx.push(txt(1524, legY[i], name, { align: "left", size: 26, weight: "normal", sx: 0.78 }));
  });

  return {
    animation: false,
    backgroundColor: "#ffffff",
    textStyle: { fontFamily: FONT },
    grid: grids,
    xAxis: xAxes,
    yAxis: yAxes,
    series,
    graphic: { elements: gfx },
  };
}

export default function App() {
  const ref = useRef<HTMLDivElement>(null);
  useEffect(() => {
    if (!ref.current) return;
    const chart = echarts.init(ref.current, null, { renderer: "svg" });
    chart.setOption(buildOption() as any);
    return () => chart.dispose();
  }, []);
  return (
    <div
      ref={ref}
      style={{ position: "absolute", left: 0, top: 0, width: 1946, height: 1683, background: "#ffffff" }}
    />
  );
}
